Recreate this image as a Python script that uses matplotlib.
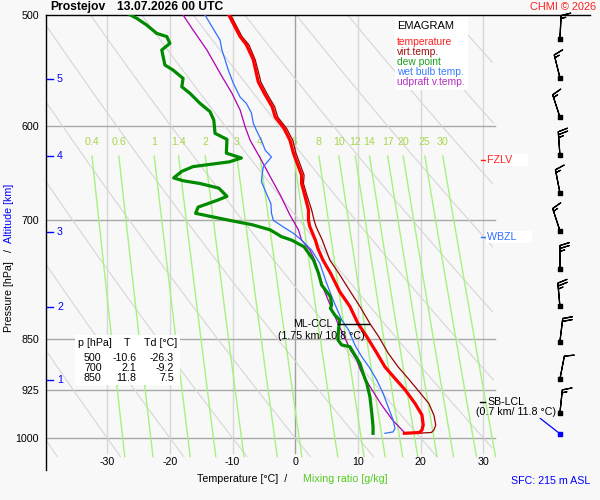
import numpy as np
import matplotlib
matplotlib.use('Agg')
import matplotlib.pyplot as plt
from matplotlib import transforms
from matplotlib.patches import Rectangle
from matplotlib.ticker import NullLocator

plt.rcParams['font.family'] = ['Liberation Sans', 'DejaVu Sans']

# ---------------- data ----------------
P_T = [500, 507, 518, 525, 538, 553, 558, 570, 581, 591, 602, 614, 627, 641, 650,
       659, 673, 688, 700, 707, 723, 733, 747, 763, 787, 806, 829, 847, 870, 890,
       907, 924, 945, 963, 979, 987, 991, 992.3]
TEMP = [-10.6, -9.9, -8.8, -7.8, -6.7, -6.1, -5.9, -4.8, -3.7, -3.2, -1.8, -0.85, -0.3,
        0.5, 1.0, 1.0, 1.55, 2.1, 2.1, 2.3, 3.2, 3.6, 4.4, 5.6, 7.1, 8.7, 10.0, 11.4,
        13.0, 14.3, 15.9, 17.5, 19.1, 20.2, 20.4, 20.2, 19.8, 17.4]
VIRT = [-10.3, -9.6, -8.5, -7.4, -6.4, -5.7, -5.5, -4.4, -3.3, -2.8, -1.4, -0.4, 0.1,
        0.9, 1.4, 1.3, 1.9, 2.6, 3.0, 3.3, 4.3, 4.8, 5.5, 6.9, 8.8, 10.3, 11.9, 13.3,
        14.8, 16.4, 18.0, 19.5, 21.3, 22.1, 22.4, 22.1, 21.7, 19.3]

P_TD = [500, 502.7, 508.3, 515.3, 518, 523.8, 529.5, 542.7, 547.2, 554.7, 562.4, 568.5,
        577.9, 585.8, 594, 607, 613, 627, 632, 636, 641, 646, 653, 656, 659, 664, 673,
        677, 685, 692, 700, 705, 711, 719, 723, 731, 747, 763.4, 778.2, 793.3, 804.2,
        808.6, 817.5, 824.2, 835.5, 851.6, 858.6, 861, 872.8, 884.8, 899.4, 914.3,
        934.6, 960.3, 981.7, 992.3]
DEWP = [-26.3, -25.3, -23.7, -22.1, -20.5, -20.0, -21.3, -20.8, -19.5, -17.9, -18.1,
        -16.8, -15.2, -13.6, -13.0, -12.8, -10.9, -11.0, -8.6, -10.5, -16.3, -18.1,
        -19.4, -17.9, -15.2, -12.2, -10.9, -12.3, -15.5, -15.9, -10.5, -6.9, -4.0,
        -2.2, -0.6, 1.4, 2.9, 3.7, 4.2, 5.6, 5.8, 5.6, 6.3, 7.1, 6.9, 6.8, 7.4, 8.7,
        9.5, 10.3, 10.8, 11.4, 11.9, 12.2, 12.4, 12.4]

P_TW = [500, 507, 521, 529.5, 538, 547, 559, 572, 578, 587, 597, 604, 614, 624, 631,
        641, 650, 657, 670, 681, 692, 700, 707.7, 715, 723, 735, 751, 776, 793, 808.6,
        824, 837.8, 858.6, 875.3, 892, 909.4, 929.4, 950, 971, 984.2, 990, 992.3]
WETB = [-14.4, -13.6, -12.0, -11.7, -11.2, -10.7, -9.9, -8.8, -7.8, -7.0, -6.7, -6.2,
        -5.4, -4.8, -3.8, -5.1, -5.3, -5.4, -4.6, -3.9, -3.8, -3.5, -1.9, -0.3, 1.0,
        2.6, 3.9, 5.0, 5.8, 6.6, 7.4, 8.5, 9.5, 10.6, 11.9, 13.0, 14.0, 14.8, 15.6,
        15.9, 15.6, 14.3]

P_UP = [500, 512.5, 529.5, 550, 568.5, 584.2, 600.5, 614, 632, 651.7, 671.5, 694, 711,
        723, 735, 747, 785, 811, 833, 850, 866, 880, 895, 919, 945, 971, 991]
UPDR = [-17.9, -16.3, -14.1, -12.0, -10.1, -8.8, -8.0, -7.2, -5.6, -4.0, -2.4, -0.85,
        0.5, 1.0, 2.35, 3.1, 4.6, 5.9, 7.0, 8.0, 8.8, 9.8, 10.4, 11.9, 13.6, 15.5, 17.4]

P_GRID = [600, 700, 850, 925, 1000]
P_TICKS = [500, 600, 700, 850, 925, 1000]
T_TICKS = [-30, -20, -10, 0, 10, 20, 30]
MIXR = [0.4, 0.6, 1, 1.4, 2, 3, 4, 6, 8, 10, 12, 14, 17, 20, 25, 30]
MIXR_LABELS = ['0.4', '0.6', '1', '1.4', '2', '3', '4', '6', '8', '10', '12', '14',
               '17', '20', '25', '30']
THETA = list(range(-40, 100, 10))

ALT_KM = [1, 2, 3, 4, 5]
ALT_P = [909, 807, 714, 630, 555]

BARB_P = [520, 554, 591, 629, 669, 712, 758, 806, 854, 908, 960]
BARB_DIR = [3, 346, 342, 356, 349, 342, 360, 355, 7, 11, 6]
BARB_SPD = [15, 15, 15, 25, 15, 15, 25, 25, 20, 10, 15]
SFC_P = 993
SFC_DIR = 308

TABLE_P = ['500', '700', '850']
TABLE_T = ['-10.6', '2.1', '11.8']
TABLE_TD = ['-26.3', '-9.2', '7.5']

FZLV_P = 634
WBZL_P = 719
CCL_P = 830
LCL_P = 942

# ---------------- figure ----------------
W, H = 600, 500
BG = '#f8f8f8'
fig = plt.figure(figsize=(6, 5), dpi=100, facecolor=BG)
ax = fig.add_axes([46 / W, 1 - 470 / H, (590 - 46) / W, (470 - 15) / H])
ax.set_facecolor(BG)
ax.set_yscale('log')
T_MIN, T_MAX = -39.76, 47.0
ax.set_xlim(T_MIN, T_MAX)
ax.set_ylim(1053.8, 500)
for s in ['right', 'bottom']:
    ax.spines[s].set_visible(False)
for s in ['top', 'left']:
    ax.spines[s].set_color('black')
    ax.spines[s].set_linewidth(1.0)
ax.set_xticks([])
ax.yaxis.set_minor_locator(NullLocator())
ax.set_yticks(P_TICKS)
ax.set_yticklabels([str(p) for p in P_TICKS])
ax.tick_params(axis='y', length=0, pad=5, labelsize=7.7)

bt = transforms.blended_transform_factory(fig.transFigure, ax.transData)

GRID_R = 31.9
P_BOT = 1031

# grid
for t in T_TICKS:
    ax.plot([t, t], [500, 1025], color='#a0a0a0' if t == 0 else '#d8d8d8',
            lw=1.0, zorder=1)
for p in P_GRID:
    ax.plot([T_MIN, GRID_R], [p, p], color='#a8a8a8', lw=1.0, zorder=1)

# dry adiabats
pl = np.geomspace(500, P_BOT, 300)
for th in THETA:
    tt = (th + 273.15) * (pl / 1000.0) ** 0.2857 - 273.15
    tt = np.where((tt >= -39.6) & (tt <= 31.6), tt, np.nan)
    ax.plot(tt, pl, color='#d6d6d6', lw=0.8, zorder=1)

# mixing ratio lines
pm = np.geomspace(630, P_BOT, 60)
for w, lab in zip(MIXR, MIXR_LABELS):
    e = w * pm / (622.0 + w)
    g = np.log(e / 6.112)
    tt = 243.5 * g / (17.67 - g)
    ax.plot(tt, pm, color='#a6f27f', lw=1.0, zorder=1.5)
    ax.text(tt[0], 615.5, lab, color='#a8d84a', fontsize=7.7, ha='center',
            va='center', zorder=2)

# profiles
ax.plot(VIRT, P_T, color='#990000', lw=0.9, zorder=3)
ax.plot(TEMP, P_T, color='#ff0000', lw=2.3, zorder=3.5)
ax.plot(DEWP, P_TD, color='#008a00', lw=2.3, zorder=3.5)
ax.plot(WETB, P_TW, color='#2f6fff', lw=0.9, zorder=3.2)
ax.plot(UPDR, P_UP, color='#b000b0', lw=0.9, zorder=3.1)

# x tick labels
for t in T_TICKS:
    ax.text(t, 1040, str(t), ha='center', va='center', fontsize=7.7)

# altitude ticks
for k, p in zip(ALT_KM, ALT_P):
    ax.plot([47 / W, 53 / W], [p, p], transform=bt, color='#0000ff', lw=1.0,
            clip_on=False, zorder=4)
    ax.text(57 / W, p, str(k), transform=bt, color='#0000ff', fontsize=7.7,
            ha='left', va='center')

# FZLV / WBZL
ax.plot([481 / W, 486 / W], [FZLV_P, FZLV_P], transform=bt, color='#ff2020', lw=1.0,
        zorder=6)
ax.text(487 / W, FZLV_P, 'FZLV     ', transform=bt, color='#ff2020', fontsize=7.7,
        ha='left', va='center', zorder=6,
        bbox=dict(facecolor='white', edgecolor='none', pad=0.8))
ax.plot([481 / W, 486 / W], [WBZL_P, WBZL_P], transform=bt, color='#3070ff', lw=1.0,
        zorder=6)
ax.text(487 / W, WBZL_P, 'WBZL     ', transform=bt, color='#3070ff', fontsize=7.7,
        ha='left', va='center', zorder=6,
        bbox=dict(facecolor='white', edgecolor='none', pad=0.8))

# ML-CCL
ax.plot([338 / W, 369 / W], [CCL_P, CCL_P], transform=bt, color='black', lw=1.0,
        zorder=6)
ax.text(312.5 / W, CCL_P, 'ML-CCL', transform=bt, fontsize=7.7, ha='center',
        va='center', zorder=6)
ax.text(321.5 / W, 846, '(1.75 km/ 10.8 °C)', transform=bt, fontsize=7.7,
        ha='center', va='center', zorder=6)

# SB-LCL
ax.plot([480 / W, 485 / W], [LCL_P, LCL_P], transform=bt, color='black', lw=1.0,
        zorder=6)
ax.text(487 / W, LCL_P, 'SB-LCL', transform=bt, fontsize=7.7, ha='left',
        va='center', zorder=6)
ax.text(516 / W, 959, '(0.7 km/ 11.8 °C)', transform=bt, fontsize=7.7,
        ha='center', va='center', zorder=6)

# wind barbs
BARB_X = 42.2
d = np.deg2rad(BARB_DIR)
u = -np.array(BARB_SPD) * np.sin(d)
v = -np.array(BARB_SPD) * np.cos(d)
ax.barbs([BARB_X] * len(BARB_P), BARB_P, u, v, length=5.8, lw=0.9, color='black',
         zorder=7, clip_on=False)
ax.scatter([BARB_X] * len(BARB_P), BARB_P, marker='s', s=5, color='black',
           zorder=8, clip_on=False)
sd = np.deg2rad(SFC_DIR)
ax.annotate('', xy=(BARB_X, SFC_P),
            xytext=(18 * np.sin(sd), 18 * np.cos(sd)), textcoords='offset points',
            arrowprops=dict(arrowstyle='-', color='#0000ff', lw=0.9,
                            shrinkA=0, shrinkB=0), zorder=7)
ax.scatter([BARB_X], [SFC_P], marker='s', s=6, color='#0000ff', zorder=8,
           clip_on=False)

# legend box
ax.add_patch(Rectangle((395 / W, 1 - 90 / H), 73 / W, 73 / H,
                       transform=fig.transFigure, facecolor='white',
                       edgecolor='none', zorder=6))
# table box
ax.add_patch(Rectangle((75 / W, 1 - 385 / H), 105 / W, 50 / H,
                       transform=fig.transFigure, facecolor='white',
                       edgecolor='none', zorder=6))


def ft(x, y, s, **kw):
    kw.setdefault('fontsize', 7.7)
    kw.setdefault('va', 'center')
    fig.text(x / W, 1 - y / H, s, **kw)


ft(397, 26, 'EMAGRAM', color='black', fontsize=8.0)
legend_items = [('temperature', '#ff2020'), ('virt.temp.', '#a01010'),
                ('dew point', '#1f9f1f'), ('wet bulb temp.', '#3a7cff'),
                ('udpraft v.temp.', '#b030c0')]
for i, (lab, c) in enumerate(legend_items):
    ft(397, 42 + 10 * i, lab, color=c, fontsize=7.4)

# table text
ft(78.3, 343.3, 'p [hPa]')
ft(127.3, 343.3, 'T', ha='center')
ft(144, 343.3, 'Td [°C]')
for i in range(3):
    y = 358.3 + 10 * i
    ft(101.7, y, TABLE_P[i], ha='right')
    ft(136.7, y, TABLE_T[i], ha='right')
    ft(174, y, TABLE_TD[i], ha='right')

# titles
ft(50, 7, 'Prostejov', fontweight='bold', fontsize=8.7)
ft(117, 7, '13.07.2026 00 UTC', fontweight='bold', fontsize=8.7)
ft(596, 7, 'CHMI © 2026', color='#ff2020', ha='right', fontsize=7.9)
ft(590, 481, 'SFC: 215 m ASL', color='#0000ff', ha='right')

# axis labels
ft(197, 479, 'Temperature [°C]  /', color='black')
ft(303, 479, 'Mixing ratio [g/kg]', color='#55cc22')
ft(9, 297, 'Pressure [hPa]', rotation=90, ha='center', color='black')
ft(9, 250, '/', rotation=90, ha='center', color='black')
ft(9, 213, 'Altitude [km]', rotation=90, ha='center', color='#0000ff')

fig.savefig('out.png', dpi=100, facecolor=BG)
